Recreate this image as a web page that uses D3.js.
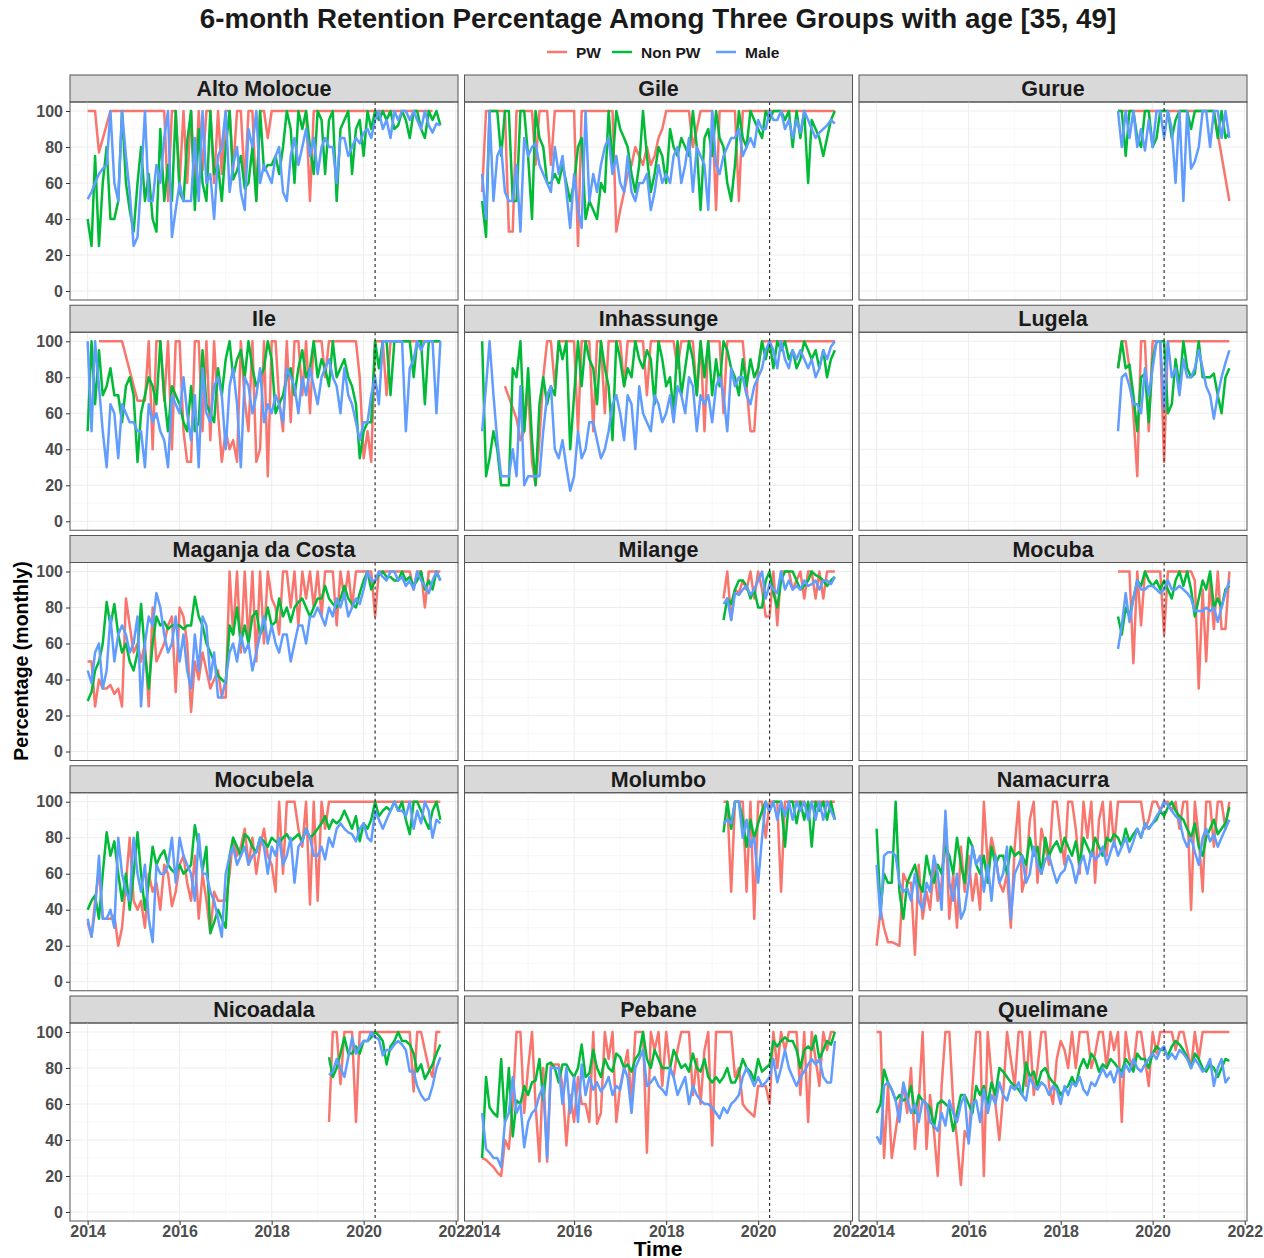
<!DOCTYPE html>
<html>
<head>
<meta charset="utf-8">
<script src="https://cdn.jsdelivr.net/npm/d3@7"></script>
<style>
body { margin: 0; background: #fff; }
text { font-family: "Liberation Sans", Arial, sans-serif; }
</style>
</head>
<body>
<script>
// parse a space separated row of monthly values, "-" = no row for that month
function vals(s) {
	return s.trim().split(/\s+/).map(function(v) { return v === "-" ? null : +v; });
}

var districts = ["Alto Molocue", "Gile", "Gurue", "Ile", "Inhassunge", "Lugela",
	"Maganja da Costa", "Milange", "Mocuba", "Mocubela", "Molumbo", "Namacurra",
	"Nicoadala", "Pebane", "Quelimane"];
var groups = ["PW", "Non PW", "Male"];
var groupColors = ["#F8766D", "#00BA38", "#619CFF"];
// first month of each district's series (0 = Jan 2014, 63 = Apr 2019)
var startMonth = [0, 0, 63, 0, 0, 63, 0, 63, 63, 0, 63, 0, 63, 0, 0];
var yTicks = [0, 20, 40, 60, 80, 100];
var xTickYears = [2014, 2016, 2018, 2020, 2022];

// monthly values, Jan 2014 .. Sep 2021 (one row per year)
var altoMolocuePW = vals(`
100 100 100 77 - - 100 100 100 100 100 100
100 100 100 100 100 100 100 100 100 50 100 100
60 100 60 100 55 100 67 100 100 60 100 65
100 100 67 100 100 60 100 100 50 100 100 85
100 100 100 100 100 100 100 100 100 100 50 100
100 100 100 100 100 100 100 100 100 100 100 100
100 100 100 100 100 100 100 100 100 100 100 100
100 100 100 100 100 100 100 - -`);
var altoMolocueNonPW = vals(`
40 25 75 25 60 80 40 40 50 100 60 45
33 60 80 50 65 40 33 90 50 70 50 100
55 50 83 100 45 90 60 50 100 65 70 50
80 100 62 67 75 57 60 80 50 100 67 70
70 75 65 80 100 90 60 100 90 100 80 65
100 95 65 95 100 50 90 95 100 65 90 95
75 100 90 100 95 100 95 100 90 92 100 95
85 100 100 90 85 100 95 100 92`);
var altoMolocueMale = vals(`
51 55 60 65 68 70 100 60 50 100 75 55
25 30 60 100 50 50 70 60 85 100 30 45
60 50 50 50 85 50 100 60 65 40 75 80
100 55 70 80 55 45 90 80 100 60 70 65
60 75 80 55 50 75 85 70 80 90 75 85
65 80 85 80 80 60 85 85 75 80 85 82
88 90 85 95 100 90 95 85 100 95 100 100
95 100 95 90 100 92 88 93 92`);

var gilePW = vals(`
55 100 100 100 100 100 100 33 33 100 100 100
100 100 70 100 100 100 70 100 100 100 100 100
100 25 100 100 100 100 100 100 100 100 100 33
45 55 65 70 80 75 70 80 70 75 85 90
100 100 100 100 100 100 100 80 90 100 100 100
100 45 100 100 100 100 100 50 100 100 100 100
100 100 100 100 100 100 100 100 100 100 100 100
100 100 100 100 100 100 100 100 100`);
var gileNonPW = vals(`
50 30 100 100 100 75 100 100 50 50 100 100
75 40 100 85 80 60 60 65 60 70 60 50
60 80 85 40 50 45 40 60 55 100 70 100
90 85 80 65 55 70 100 75 55 65 80 75
60 90 80 75 85 80 75 100 80 45 85 90
75 100 85 80 60 50 70 100 85 80 100 95
90 85 100 95 100 100 100 95 100 80 100 85
100 60 95 90 85 75 85 95 100`);
var gileMale = vals(`
65 40 100 50 75 80 55 50 50 70 33 85
75 80 82 70 65 60 55 80 65 75 55 35
65 45 35 100 50 65 55 70 80 85 65 75
60 55 75 55 50 60 60 65 45 55 70 60
65 60 75 80 60 70 85 55 80 75 70 45
100 70 65 75 80 85 85 90 75 80 85 80
95 90 90 100 95 95 100 90 95 85 95 88
100 95 90 85 88 90 92 95 93`);

// Apr 2019 .. Sep 2021
var guruePW = vals(`
100 100 100 100 100 100 100 100 100 100
100 100 100 100 100 100 100 100 100 100
100 100 100 100 100 100 - - - 50`);
var gurueNonPW = vals(`
100 100 75 100 100 85 80 100 100 80
85 100 100 100 85 95 100 100 100 90
100 100 100 100 100 100 85 100 85 88`);
var gurueMale = vals(`
100 80 100 85 100 80 90 78 95 80
100 100 85 100 90 60 100 50 100 68
72 80 100 100 80 100 100 85 100 85`);

var ilePW = vals(`
- - - 100 100 100 100 100 100 100 - -
- 67 67 67 100 40 100 100 67 100 40 100
100 50 33 33 100 100 50 100 45 100 60 33
50 40 45 33 100 67 50 100 33 40 100 25
100 100 67 50 100 55 100 100 70 100 60 100
100 100 80 100 100 100 100 100 100 100 100 80
35 50 33 100 100 100 70 100 100 100 100 100
100 100 100 100 100 100 100 100 100`);
var ileNonPW = vals(`
50 100 65 95 70 75 85 70 70 55 75 80
70 33 60 70 80 75 65 100 70 50 75 70
65 55 50 75 50 55 95 65 60 55 85 70
90 100 80 90 95 80 100 85 75 80 85 100
90 60 65 70 80 85 70 85 95 80 85 100
80 90 85 75 100 80 85 90 80 75 65 35
50 55 55 100 85 100 100 70 100 100 100 100
100 80 100 100 65 100 100 100 100`);
var ileMale = vals(`
100 50 100 75 50 30 65 60 35 65 60 55
55 50 50 30 65 55 60 50 45 30 70 65
60 80 60 45 70 30 85 60 55 75 80 70
40 75 85 65 30 80 75 60 70 85 55 65
60 70 65 55 85 80 75 60 80 70 85 75
65 80 85 90 80 75 60 85 70 65 55 45
55 55 70 80 65 100 100 100 100 100 100 50
85 90 100 95 100 100 100 60 100`);

var inhassungePW = vals(`
- - - - - - 75 - - 57 45 50
75 33 20 45 80 100 100 75 100 100 100 100
100 50 100 100 100 50 100 100 60 100 100 100
100 75 100 100 100 100 100 70 100 100 100 100
100 100 100 85 100 100 100 100 70 100 50 100
100 100 100 60 100 100 100 100 100 75 50 50
85 100 100 100 100 100 100 100 100 100 100 100
100 100 100 100 100 100 100 100 100`);
var inhassungeNonPW = vals(`
100 25 35 50 40 20 20 20 85 80 100 50
85 45 20 65 80 65 75 70 100 90 100 40
70 100 75 100 90 85 65 100 85 75 45 100
90 75 85 80 100 90 85 95 90 65 100 90
75 80 60 100 70 85 100 90 70 100 80 100
70 90 75 100 95 85 80 70 90 75 90 80
85 100 90 100 85 100 95 100 90 95 85 90
100 95 90 95 85 95 80 90 95`);
var inhassungeMale = vals(`
50 75 100 70 45 25 25 25 40 25 75 20
25 25 25 25 50 70 75 40 35 45 30 17
25 50 35 40 55 55 45 35 40 50 65 70
60 45 70 65 40 75 60 55 50 70 65 55
60 70 55 75 70 60 80 75 50 70 65 70
55 75 80 70 50 85 75 80 80 70 65 75
80 85 95 100 95 85 100 90 85 95 90 95
90 85 90 80 85 95 90 97 100`);

var lugelaPW = vals(`
85 100 100 85 60 25 100 100 50 100
100 100 33 100 100 100 100 100 100 100
100 100 100 100 100 100 100 100 100 100`);
var lugelaNonPW = vals(`
85 100 85 87 70 50 80 82 55 90
100 100 100 60 65 90 75 100 85 80
82 100 80 80 80 82 70 60 80 85`);
var lugelaMale = vals(`
50 80 82 75 65 65 60 85 70 85
100 100 62 100 80 85 70 90 80 80
85 95 85 75 70 57 70 80 88 95`);

var maganjaPW = vals(`
50 50 25 40 35 35 37 32 35 25 85 70
55 60 50 60 25 80 50 55 60 70 75 33
80 75 60 22 50 40 55 45 35 40 45 30
30 100 65 100 55 100 60 100 50 100 60 100
85 80 65 100 100 80 100 70 100 85 100 80
100 75 100 100 100 70 100 85 100 80 100 100
100 100 100 75 100 100 100 100 100 100 100 100
100 90 100 100 80 100 100 100 100`);
var maganjaNonPW = vals(`
28 33 45 50 60 83 70 82 65 55 60 50
45 55 82 55 35 60 75 70 72 68 70 70
70 68 70 70 86 75 70 60 55 50 42 40
38 70 65 80 60 70 60 75 78 65 70 80
70 72 85 75 80 72 80 83 85 80 75 80
85 85 92 85 82 80 85 92 85 82 80 88
95 100 90 95 98 100 97 97 95 95 100 95
97 92 95 100 90 95 90 100 95`);
var maganjaMale = vals(`
45 38 55 60 35 45 75 50 65 70 65 55
60 75 25 60 75 70 88 80 65 55 60 75
50 65 45 35 65 45 75 70 40 55 30 30
40 55 60 50 65 55 60 45 55 65 75 60
70 60 55 65 65 50 60 70 70 60 75 75
80 75 70 80 75 85 80 88 75 80 85 82
90 100 95 95 100 97 95 100 100 95 97 92
95 90 100 95 92 88 95 100 95`);

var milangePW = vals(`
85 100 73 90 88 95 90 100 85 100
90 75 75 100 70 100 100 100 90 95
100 85 100 100 85 100 85 100 100 100`);
var milangeNonPW = vals(`
73 85 82 90 95 95 92 85 90 80
80 95 100 88 80 95 100 100 100 95
90 92 95 100 98 97 95 92 95 97`);
var milangeMale = vals(`
82 85 73 88 87 90 92 87 90 95
100 85 93 90 88 100 90 95 90 92
90 95 92 93 95 90 95 95 93 97`);

var mocubaPW = vals(`
100 100 100 100 49 100 70 100 100 100
100 100 65 100 100 100 100 100 100 100
95 35 90 50 95 68 100 68 68 100`);
var mocubaNonPW = vals(`
75 65 80 75 85 95 92 100 95 92
95 90 95 90 85 95 100 92 100 90
75 85 95 90 100 80 85 80 90 92`);
var mocubaMale = vals(`
57 70 88 72 85 95 90 90 92 92
90 88 90 95 90 90 92 90 88 85
78 78 78 80 78 80 72 80 88 95`);

var mocubelaPW = vals(`
33 25 45 62 35 35 35 37 20 30 55 80
45 40 45 30 60 50 55 40 65 60 42 50
65 70 55 45 70 35 60 45 27 50 45 45
45 60 80 70 75 85 65 80 60 75 85 70
65 50 100 60 100 100 100 85 75 100 43 100
45 100 85 100 100 100 100 100 100 100 100 100
100 100 100 100 100 100 100 100 100 100 100 100
100 100 100 100 100 100 100 100 100`);
var mocubelaNonPW = vals(`
40 45 48 35 60 83 70 78 60 45 60 40
60 83 60 40 55 75 65 70 73 65 62 60
65 60 62 65 87 75 62 75 27 33 40 35
30 70 80 75 70 82 80 75 72 80 78 75
80 78 77 80 82 78 80 82 78 85 80 82
85 88 92 85 90 88 90 95 90 85 92 78
88 85 90 100 92 95 97 95 100 95 100 90
82 100 100 95 90 85 95 100 90`);
var mocubelaMale = vals(`
35 25 40 70 35 35 40 30 80 60 50 45
80 60 50 65 35 22 65 60 60 65 80 55
80 70 65 60 45 82 60 60 50 45 35 25
60 70 75 65 70 75 65 70 72 80 75 60
75 70 80 65 70 80 55 75 78 85 80 70
70 75 68 80 75 85 88 85 83 82 78 85
88 80 78 95 90 85 90 95 100 95 95 92
100 85 95 88 100 95 80 90 88`);

var molumboPW = vals(`
100 100 50 100 100 100 50 100 35 100
100 80 100 100 100 50 100 100 100 100
100 100 95 100 100 100 100 100 100 100`);
var molumboNonPW = vals(`
83 100 85 100 100 90 75 90 80 88
95 100 95 100 100 100 75 100 100 88
100 90 100 75 100 95 100 90 100 90`);
var molumboMale = vals(`
88 90 88 100 100 80 90 75 80 55
80 100 95 100 90 100 92 100 90 100
95 100 90 100 90 100 90 100 95 90`);

var namacurraPW = vals(`
20 40 30 22 22 21 20 60 55 55 15 65
35 50 40 65 45 55 90 35 60 30 75 50
70 45 60 40 100 65 80 70 55 50 60 30
75 100 50 60 90 100 55 85 75 65 100 100
80 65 100 100 85 60 100 80 100 55 90 100
70 100 75 100 100 100 100 100 100 100 85 90
100 100 95 100 100 95 100 85 100 100 40 100
80 50 100 100 75 100 100 85 100`);
var namacurraNonPW = vals(`
85 40 60 55 55 100 50 35 55 60 65 55
50 70 60 55 65 60 75 70 60 80 65 55
80 75 65 60 70 55 75 65 70 70 60 75
70 72 70 65 80 70 75 60 80 70 75 78
72 80 75 70 78 65 80 75 70 80 75 70
80 78 82 80 75 85 78 82 85 80 88 85
88 90 95 92 97 100 95 92 90 85 80 88
75 70 80 85 90 82 85 88 97`);
var namacurraMale = vals(`
65 35 70 72 72 70 55 50 52 45 60 45
40 55 50 70 60 40 95 55 45 60 35 40
55 75 65 70 50 65 45 70 55 60 75 35
60 65 70 55 60 75 65 60 68 70 62 55
60 62 70 65 55 65 70 60 72 68 70 75
65 72 78 70 75 80 72 78 85 80 88 85
88 92 95 100 98 95 92 90 80 75 80 72
65 80 85 78 82 75 80 85 90`);

var nicoadalaPW = vals(`
50 100 100 71 100 100 100 50 100 100
100 100 100 100 100 100 100 100 100 100 100 100
67 100 100 90 80 75 100 100`);
var nicoadalaNonPW = vals(`
86 75 80 88 97 88 88 92 88 95
95 97 100 98 95 82 92 95 100 95
95 93 88 78 82 74 78 82 88 93`);
var nicoadalaMale = vals(`
76 78 85 80 75 86 97 88 92 95
95 100 97 96 87 90 90 93 95 93
90 78 78 70 65 62 63 70 80 86`);

var pebanePW = vals(`
30 29 27 25 22 20 40 35 60 100 100 55
80 100 60 28 80 28 82 82 82 70 37 65
50 75 60 60 50 100 49 55 100 85 100 50
70 80 90 60 100 100 100 33 100 90 100 70
100 80 75 90 100 100 100 65 85 60 90 100
37 100 100 100 100 100 75 80 60 57 55 53
70 70 70 60 100 80 100 90 100 100 100 65
100 50 100 85 70 100 90 100 100`);
var pebaneNonPW = vals(`
30 75 58 55 53 85 50 80 42 62 60 70
65 72 73 85 62 82 83 80 72 82 82 78
75 80 93 75 77 90 80 75 85 80 78 88
86 80 82 78 85 88 100 85 80 90 85 80
80 80 90 85 80 82 78 88 80 78 85 75
72 75 72 75 80 72 72 77 85 80 78 73
85 78 80 82 95 92 95 97 95 95 90 80
90 92 90 98 85 90 95 93 100`);
var pebaneMale = vals(`
55 35 33 30 30 25 50 55 75 55 60 36
50 55 57 65 70 30 80 80 80 60 80 55
75 50 82 65 75 68 72 67 70 75 65 70
68 80 75 55 80 85 90 70 72 75 70 68
65 80 75 65 70 75 60 70 65 62 60 60
58 55 52 58 55 60 62 65 75 80 75 70
75 70 72 75 85 72 80 90 80 75 70 75
78 82 85 82 85 75 72 72 95`);

var quelimanePW = vals(`
100 100 30 70 30 45 60 70 55 80 35 60
100 35 65 45 20 70 100 100 60 40 15 45
40 70 100 100 20 100 75 60 40 65 100 85
70 100 100 70 100 65 80 100 100 70 60 85
95 90 80 100 80 100 100 100 80 88 100 100
80 100 90 100 50 100 85 80 100 100 85 70
100 88 100 100 100 100 90 100 100 90 80 100
85 100 100 100 100 100 100 100 100`);
var quelimaneNonPW = vals(`
55 60 79 72 68 62 65 62 63 70 55 65
62 60 58 47 60 62 60 58 45 55 65 65
60 55 70 65 70 60 72 65 80 78 75 72
70 68 65 83 75 78 70 78 80 75 72 70
65 68 70 75 70 80 85 80 88 85 78 82
80 85 83 80 78 85 82 78 88 85 85 80
88 92 90 90 87 92 95 93 90 86 80 88
85 80 78 82 80 75 80 85 84`);
var quelimaneMale = vals(`
42 38 70 72 68 62 50 72 63 55 60 50
62 60 50 48 45 55 48 62 55 50 60 65
38 60 62 50 68 55 65 60 72 65 62 70
68 72 65 62 75 70 68 72 70 65 70 68
60 70 65 72 70 75 68 65 72 70 75 80
75 78 72 80 75 82 78 85 80 78 82 85
88 85 90 92 85 88 85 90 88 85 80 85
82 78 80 85 70 80 85 72 75`);

var series = [
	[altoMolocuePW, altoMolocueNonPW, altoMolocueMale],
	[gilePW, gileNonPW, gileMale],
	[guruePW, gurueNonPW, gurueMale],
	[ilePW, ileNonPW, ileMale],
	[inhassungePW, inhassungeNonPW, inhassungeMale],
	[lugelaPW, lugelaNonPW, lugelaMale],
	[maganjaPW, maganjaNonPW, maganjaMale],
	[milangePW, milangeNonPW, milangeMale],
	[mocubaPW, mocubaNonPW, mocubaMale],
	[mocubelaPW, mocubelaNonPW, mocubelaMale],
	[molumboPW, molumboNonPW, molumboMale],
	[namacurraPW, namacurraNonPW, namacurraMale],
	[nicoadalaPW, nicoadalaNonPW, nicoadalaMale],
	[pebanePW, pebaneNonPW, pebaneMale],
	[quelimanePW, quelimaneNonPW, quelimaneMale]
];

var months = d3.timeMonth.range(new Date(2014, 0, 1), new Date(2021, 9, 1));
var covidDate = new Date(2020, 3, 1);

// layout
var width = 1264, height = 1258;
var panelW = 388, stripH = 27, plotH = 198;
var colStep = 394.5, rowStep = 230.25, left0 = 70, top0 = 75;
var tickFont = 16, axisGrey = "#4d4d4d";

var svg = d3.select("body").append("svg")
	.attr("width", width)
	.attr("height", height);

// ggplot style 5% expansion on both axes
var pad = panelW * 0.05 / 1.1;
var x = d3.scaleTime()
	.domain([months[0], months[months.length - 1]])
	.range([pad, panelW - pad]);
var y = d3.scaleLinear().domain([-5, 105]).range([plotH, 0]);

var line = d3.line()
	.x(function(d) { return x(d.date); })
	.y(function(d) { return y(d.v); });

var majorYears = xTickYears.map(function(yr) { return new Date(yr, 0, 1); });
var minorYears = [2015, 2017, 2019, 2021].map(function(yr) { return new Date(yr, 0, 1); });

districts.forEach(function(name, k) {
	var c = k % 3, r = Math.floor(k / 3);
	var g = svg.append("g")
		.attr("transform", "translate(" + (left0 + c * colStep) + "," + (top0 + r * rowStep) + ")");

	// strip
	g.append("rect")
		.attr("width", panelW)
		.attr("height", stripH)
		.attr("fill", "#d9d9d9")
		.attr("stroke", "#555")
		.attr("stroke-width", 1);
	g.append("text")
		.attr("x", panelW / 2)
		.attr("y", stripH / 2 + 7.5)
		.attr("text-anchor", "middle")
		.attr("font-size", 21.5)
		.attr("font-weight", "bold")
		.attr("fill", "#1a1a1a")
		.text(name);

	var p = g.append("g").attr("transform", "translate(0," + stripH + ")");

	// grid
	p.selectAll(".gminor")
		.data([10, 30, 50, 70, 90])
		.enter().append("line")
		.attr("x1", 0).attr("x2", panelW)
		.attr("y1", function(d) { return y(d); })
		.attr("y2", function(d) { return y(d); })
		.attr("stroke", "#f4f4f4").attr("stroke-width", 0.6);
	p.selectAll(".gmajor")
		.data(yTicks)
		.enter().append("line")
		.attr("x1", 0).attr("x2", panelW)
		.attr("y1", function(d) { return y(d); })
		.attr("y2", function(d) { return y(d); })
		.attr("stroke", "#ededed").attr("stroke-width", 1);
	p.selectAll(".vminor")
		.data(minorYears)
		.enter().append("line")
		.attr("y1", 0).attr("y2", plotH)
		.attr("x1", function(d) { return x(d); })
		.attr("x2", function(d) { return x(d); })
		.attr("stroke", "#f4f4f4").attr("stroke-width", 0.6);
	p.selectAll(".vmajor")
		.data(majorYears)
		.enter().append("line")
		.attr("y1", 0).attr("y2", plotH)
		.attr("x1", function(d) { return x(d); })
		.attr("x2", function(d) { return x(d); })
		.attr("stroke", "#ededed").attr("stroke-width", 1);

	// series lines, male drawn last
	series[k].forEach(function(arr, gi) {
		var pts = arr.map(function(v, i) {
			return { date: months[startMonth[k] + i], v: v };
		}).filter(function(d) { return d.v !== null && d.date; });
		p.append("path")
			.datum(pts)
			.attr("d", line)
			.attr("fill", "none")
			.attr("stroke", groupColors[gi])
			.attr("stroke-width", 2.5)
			.attr("stroke-linejoin", "round");
	});

	// COVID marker
	p.append("line")
		.attr("x1", x(covidDate)).attr("x2", x(covidDate))
		.attr("y1", 0).attr("y2", plotH)
		.attr("stroke", "#222")
		.attr("stroke-width", 1.1)
		.attr("stroke-dasharray", "3,3");

	// border
	p.append("rect")
		.attr("width", panelW)
		.attr("height", plotH)
		.attr("fill", "none")
		.attr("stroke", "#555")
		.attr("stroke-width", 1);

	if (c === 0) {
		var ya = p.append("g")
			.call(d3.axisLeft(y).tickValues(yTicks).tickSize(4).tickPadding(3));
		ya.select(".domain").remove();
		ya.selectAll("line").attr("stroke", "#333");
		ya.selectAll("text")
			.attr("font-size", tickFont)
			.attr("font-weight", "bold")
			.attr("font-family", "Liberation Sans, Arial, sans-serif")
			.attr("fill", axisGrey);
	}
	if (r === 4) {
		var xa = p.append("g")
			.attr("transform", "translate(0," + plotH + ")")
			.call(d3.axisBottom(x).tickValues(majorYears).tickFormat(d3.timeFormat("%Y")).tickSize(4).tickPadding(1));
		xa.select(".domain").remove();
		xa.selectAll("line").attr("stroke", "#333");
		xa.selectAll("text")
			.attr("font-size", tickFont)
			.attr("font-weight", "bold")
			.attr("font-family", "Liberation Sans, Arial, sans-serif")
			.attr("fill", axisGrey);
	}
});

// title, fitted to the reference width
var title = svg.append("text")
	.attr("x", 658)
	.attr("y", 28)
	.attr("text-anchor", "middle")
	.attr("font-size", 24)
	.attr("font-weight", "bold")
	.attr("fill", "#1a1a1a")
	.text("6-month Retention Percentage Among Three Groups with age [35, 49]");
var tw = title.node().getComputedTextLength();
title.attr("font-size", 24 * 917 / tw);

// legend
var legendX = [547, 612, 716];
var legend = svg.append("g");
groups.forEach(function(gname, i) {
	legend.append("line")
		.attr("x1", legendX[i]).attr("x2", legendX[i] + 20)
		.attr("y1", 52).attr("y2", 52)
		.attr("stroke", groupColors[i])
		.attr("stroke-width", 2.5);
	legend.append("text")
		.attr("x", legendX[i] + 29)
		.attr("y", 57.5)
		.attr("font-size", 15.5)
		.attr("font-weight", "bold")
		.attr("fill", "#1a1a1a")
		.text(gname);
});

// axis titles
svg.append("text")
	.attr("transform", "translate(28,661) rotate(-90)")
	.attr("text-anchor", "middle")
	.attr("font-size", 19.5)
	.attr("font-weight", "bold")
	.attr("fill", "#000")
	.text("Percentage (monthly)");
svg.append("text")
	.attr("x", 658)
	.attr("y", 1256)
	.attr("text-anchor", "middle")
	.attr("font-size", 21)
	.attr("font-weight", "bold")
	.attr("fill", "#000")
	.text("Time");
</script>
</body>
</html>
